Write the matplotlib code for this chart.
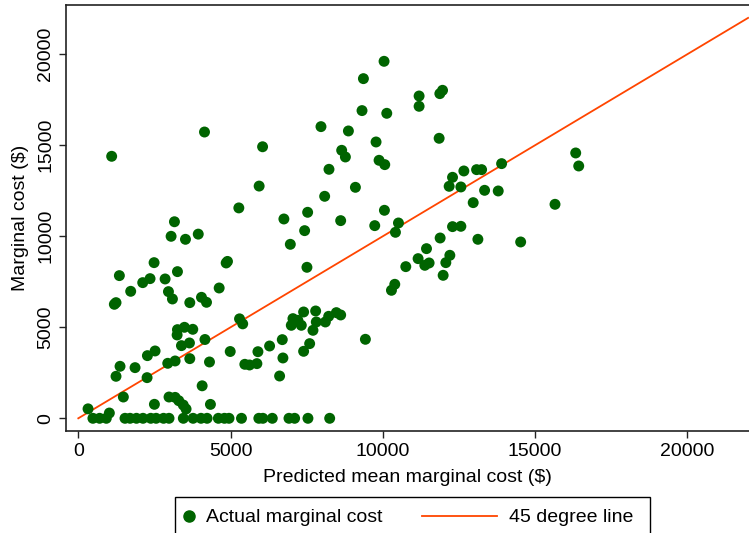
import matplotlib
matplotlib.use("Agg")
import numpy as np
import matplotlib.pyplot as plt
from matplotlib.lines import Line2D
from matplotlib.patches import Rectangle
from matplotlib.legend_handler import HandlerLine2D

# Actual marginal cost vs predicted mean marginal cost (non-zero points)
pred_x = [1096, 4145, 6053, 5940, 5273, 3158, 3048, 3520, 3940, 2489, 4857, 4900,
          1349, 2116, 2357, 2851, 3257, 1721, 1184, 1239, 2961, 3092, 3662, 4046,
          4211, 4627, 5296, 5400, 3257, 3487, 3760, 3246, 3388, 3651, 4160, 2270,
          2522, 1371, 1239, 1864, 2259, 2938, 3180, 3662, 4309, 4990, 4068, 1480,
          2500, 2980, 3180, 3300, 3448, 3540, 4340, 320, 1020, 5470, 5625, 5866,
          5900, 6283, 6700, 6721, 6612, 7050, 6996, 7213, 7401, 7325, 7708, 7796,
          7817, 8115, 8224, 8476, 8618, 7599, 7401, 9430, 10043, 9365, 11194, 11194,
          11875, 11964, 9319, 10132, 7971, 8872, 9780, 11852, 8651, 8773, 9879, 10066,
          8234, 9102, 8092, 6753, 7533, 7434, 6964, 8618, 10055, 9737, 10516, 10417,
          7510, 12292, 12664, 12181, 12566, 13082, 13247, 13345, 13793, 13904, 12971,
          12292, 12566, 11885, 13125, 14530, 11437, 11161, 11382, 11523, 12204, 12072,
          10757, 11984, 10395, 10286, 16338, 16437, 15658]
actual_y = [14396, 15730, 14920, 12760, 11560, 10800, 10000, 9835, 10120, 8553, 8535, 8620,
            7840, 7454, 7674, 7656, 8059, 6978, 6264, 6355, 6960, 6557, 6355, 6648,
            6374, 7160, 5465, 5190, 4872, 5000, 4890, 4579, 3993, 4139, 4330, 3443,
            3700, 2857, 2308, 2784, 2234, 3022, 3150, 3278, 3095, 3670, 1786, 1170,
            769, 1170, 1150, 967, 731, 510, 765, 520, 290, 2967, 2930, 3004,
            3660, 3973, 4322, 3315, 2324, 5476, 5110, 5385, 5842, 5110, 4835, 5897,
            5293, 5293, 5604, 5806, 5678, 4103, 3681, 4341, 19615, 18663, 17709, 17143,
            17839, 18022, 16907, 16758, 16026, 15788, 15183, 15385, 14725, 14359, 14176, 13938,
            13681, 12692, 12198, 10952, 11319, 10311, 9560, 10861, 11429, 10586, 10732, 10220,
            8297, 13242, 13590, 12747, 12711, 13663, 13663, 12527, 12491, 13993, 11850,
            10531, 10549, 9907, 9835, 9689, 9322, 8773, 8407, 8535, 8956, 8553,
            8333, 7857, 7363, 7033, 14579, 13864, 11758]

# Points with zero actual marginal cost
zero_x = [480, 700, 920, 1534, 1700, 1910, 2125, 2380, 2556, 2800, 2980, 3450, 3770,
          4030, 4230, 4600, 4800, 4950, 5360, 5930, 6063, 6372, 6920, 7105, 7543, 8257]
zero_y = [0] * len(zero_x)

line_x = [0, 22000]
line_y = [0, 22000]

x_ticks = [0, 5000, 10000, 15000, 20000]
y_ticks = [0, 5000, 10000, 15000, 20000]

plt.rcParams['font.family'] = ['Liberation Sans', 'DejaVu Sans']

fig = plt.figure(figsize=(7.49, 5.33), dpi=100)
ax = fig.add_axes([66 / 749, 1 - 430.7 / 533, 1 - 66 / 749, (430.7 - 5) / 533])

green = '#006400'
orange = '#FF4500'

ax.scatter(pred_x + zero_x, actual_y + zero_y, s=62, color=green, edgecolors='none', zorder=3)
ax.plot(line_x, line_y, color=orange, lw=1.3, zorder=2)

ax.set_xlim(-404, 22030)
ax.set_ylim(-681, 22709)
ax.set_xticks(x_ticks)
ax.set_yticks(y_ticks)
ax.tick_params(axis='both', direction='out', length=5, width=1, labelsize=14, color='#222222')
ax.tick_params(axis='x', pad=4)
for lab in ax.get_yticklabels():
    lab.set_rotation(90)
    lab.set_va('center')
ax.spines['right'].set_visible(False)
for sp in ['left', 'bottom', 'top']:
    ax.spines[sp].set_linewidth(1.2)
    ax.spines[sp].set_color('#222222')

ax.set_xlabel('Predicted mean marginal cost ($)', fontsize=14, labelpad=6)
ax.set_ylabel('Marginal cost ($)', fontsize=14, labelpad=6)


class LongLineHandler(HandlerLine2D):
    """Line handle that extends leftwards beyond the (short) handle box."""
    def create_artists(self, legend, orig_handle, xdescent, ydescent,
                       width, height, fontsize, trans):
        arts = super().create_artists(legend, orig_handle, xdescent, ydescent,
                                      width, height, fontsize, trans)
        for a in arts:
            a.set_xdata(np.linspace(-xdescent + width - 54, -xdescent + width, 3))
        return arts


h_pts = Line2D([], [], marker='o', ls='none', color=green, markersize=8)
h_line = Line2D([], [], color=orange, lw=1.3)
leg = fig.legend([h_pts, h_line], ['Actual marginal cost', '45 degree line'], ncol=2,
                 loc='upper left', bbox_to_anchor=(175 / 749, 1 - 500 / 533),
                 borderaxespad=0, fontsize=14, frameon=False,
                 handlelength=0.55, columnspacing=5.35,
                 handletextpad=0.6, borderpad=0.45,
                 handler_map={h_line: LongLineHandler()})

# legend frame (extends past the bottom edge as in the original)
fig.patches.append(Rectangle((175 / 749, -0.05), (650 - 175) / 749, (1 - 497 / 533) + 0.05,
                             transform=fig.transFigure, fill=False,
                             edgecolor='black', linewidth=1.0))

fig.savefig('out.png', dpi=100)
